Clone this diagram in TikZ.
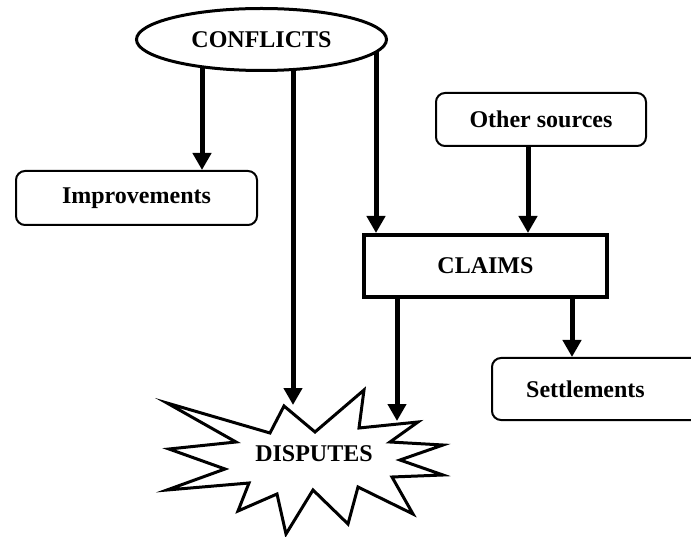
\documentclass[tikz,border=0pt]{standalone}
\usepackage{fontspec}
\setmainfont{Liberation Serif}
\usetikzlibrary{arrows.meta,shapes.geometric,backgrounds}
\begin{document}
\begin{tikzpicture}[x=1pt,y=-1pt,
  lbl/.style={font=\bfseries\fontsize{24}{28}\selectfont},
  rbox/.style={lbl,draw,line width=2pt,rounded corners=9pt,fill=white,inner sep=0pt},
  sbox/.style={lbl,draw,line width=4pt,fill=white,inner sep=0pt},
  oval/.style={lbl,draw,ellipse,line width=3pt,fill=white,inner sep=0pt},
  arr/.style={line width=5pt,-{Triangle[width=18pt,length=17pt]}},
  burst/.style={draw,line width=3pt,fill=white,line join=miter}]
\useasboundingbox (0,0) rectangle (691,537);
\clip (0,0) rectangle (691,537);

\node[oval, minimum width=250pt, minimum height=62pt] (conf) at (261.5,39.5) {CONFLICTS};
\node[rbox, minimum width=241pt, minimum height=54pt] (imp) at (136.5,198) {Improvements};
\node[rbox, minimum width=210pt, minimum height=53pt] (os) at (541,119.5) {Other sources};
\node[sbox, minimum width=243pt, minimum height=62pt] (claims) at (485.5,266) {CLAIMS};
\node[rbox, anchor=west, minimum width=220pt, minimum height=62pt] (settle) at (491,389) {};
\node[lbl] (settletext) at (585.5,389) {Settlements};

\draw[burst] (167,403) -- (270,433) -- (284,406) -- (315,432) -- (364,390)
  -- (359,428) -- (418,422) -- (390,442) -- (443,445) -- (400,460)
  -- (443,475) -- (392,477) -- (413,514) -- (358,487) -- (348,524)
  -- (313,490) -- (286,534) -- (277,494) -- (238,511) -- (249,483)
  -- (167,490) -- (225,469) -- (169,449) -- (236,442) -- cycle;
\node[lbl] (disp) at (314,454) {DISPUTES};

\coordinate (x1) at (202,0);
\coordinate (x2) at (293,0);
\coordinate (x3) at (376,0);
\coordinate (x4) at (528,0);
\coordinate (x5) at (397,0);
\coordinate (x6) at (572,0);
\coordinate (d1) at (293,405);
\coordinate (d2) at (397,421);

\begin{scope}[on background layer]
\draw[arr] (conf.center -| x1) -- (x1 |- imp.north);
\draw[arr] (conf.center -| x2) -- (d1);
\draw[arr] (conf.center -| x3) -- (x3 |- claims.north);
\end{scope}
\draw[arr] (x4 |- os.south) -- (x4 |- claims.north);
\draw[arr] (x5 |- claims.south) -- (d2);
\draw[arr] (x6 |- claims.south) -- (x6 |- settle.north);
\end{tikzpicture}
\end{document}
